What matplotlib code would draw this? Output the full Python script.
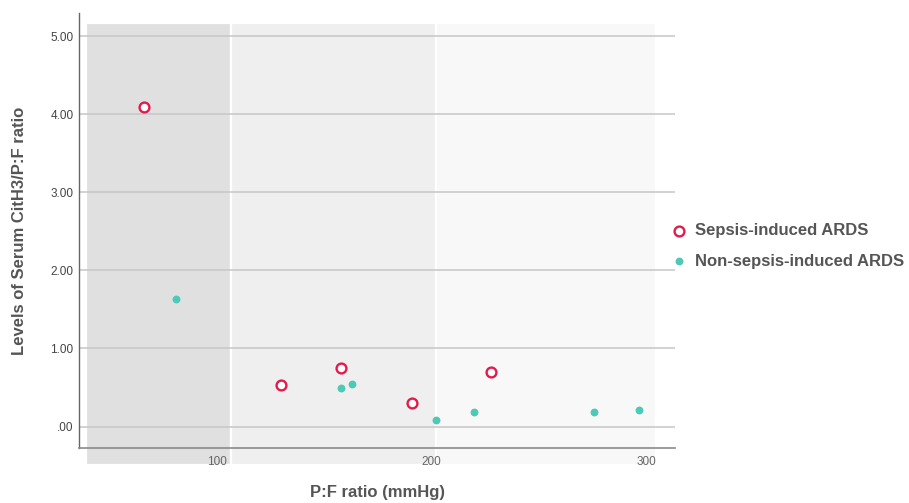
import matplotlib
matplotlib.use("Agg")
import matplotlib.pyplot as plt
from matplotlib.patches import Rectangle

plt.rcParams['font.family'] = ['Liberation Sans', 'DejaVu Sans']

# P:F ratio (mmHg) vs serum CitH3 / P:F ratio
sepsis_pf = [66.1, 129.8, 157.7, 191.0, 227.9]
sepsis_cith3 = [4.09, 0.53, 0.75, 0.30, 0.70]

non_sepsis_pf = [80.7, 157.7, 162.8, 202.1, 220.0, 275.8, 296.7]
non_sepsis_cith3 = [1.63, 0.50, 0.55, 0.08, 0.18, 0.18, 0.21]

# shaded background bands (severe / moderate / mild)
band_edges = [38.9, 106.5, 202.1, 304.7]
band_colors = ['#e0e0e0', '#efefef', '#f8f8f8']

x_ticks = [100, 200, 300]
y_ticks = [0, 1, 2, 3, 4, 5]
y_tick_labels = ['.00', '1.00', '2.00', '3.00', '4.00', '5.00']

fig = plt.figure(figsize=(9.09, 5.03), dpi=100)
ax = fig.add_axes([0.0869, 0.1093, 0.6557, 0.8647])

ax.set_xlim(35.66, 313.5)
ax.set_ylim(-0.275, 5.295)

for i, col in enumerate(band_colors):
    ax.add_patch(Rectangle((band_edges[i], -0.493), band_edges[i+1] - band_edges[i], 5.166 + 0.493,
                           facecolor=col, edgecolor='white', linewidth=1.6,
                           zorder=0, clip_on=False))

for yv in y_ticks:
    ax.axhline(yv, color='#c6c6c6', linewidth=1.1, zorder=1)

ax.scatter(sepsis_pf, sepsis_cith3, s=50, facecolors='white', edgecolors='#e31b4c',
           linewidths=1.7, zorder=3, label='Sepsis-induced ARDS')
ax.scatter(non_sepsis_pf, non_sepsis_cith3, s=32, color='#4ec9b7', linewidths=0,
           zorder=3, label='Non-sepsis-induced ARDS')

ax.set_xticks(x_ticks)
ax.set_xticklabels([str(t) for t in x_ticks])
ax.set_yticks(y_ticks)
ax.set_yticklabels(y_tick_labels)
ax.tick_params(axis='y', length=0, pad=4, labelsize=8.5, labelcolor='#444444')
ax.tick_params(axis='x', length=0, pad=6, labelsize=8.5, labelcolor='#666666')

ax.patch.set_alpha(0)
for side in ['top', 'right']:
    ax.spines[side].set_visible(False)
ax.spines['left'].set_color('#666666')
ax.spines['left'].set_linewidth(1.0)
ax.spines['bottom'].set_color('#8a8a8a')
ax.spines['bottom'].set_linewidth(1.2)

ax.set_xlabel('P:F ratio (mmHg)', fontsize=12, fontweight='bold', color='#555555')
ax.set_ylabel('Levels of Serum CitH3/P:F ratio', fontsize=12, fontweight='bold', color='#555555')
ax.xaxis.set_label_coords(0.5, -0.085)
ax.yaxis.set_label_coords(-0.088, 0.5)

leg = ax.legend(loc='upper left', bbox_to_anchor=(672 / 909, 1 - 223 / 503),
                bbox_transform=fig.transFigure, frameon=False, fontsize=12,
                handlelength=0.8, handletextpad=0.6, labelspacing=0.95,
                borderpad=0, borderaxespad=0)
for t in leg.get_texts():
    t.set_color('#555555')
    t.set_fontweight('bold')

fig.savefig('out.png', dpi=100)
